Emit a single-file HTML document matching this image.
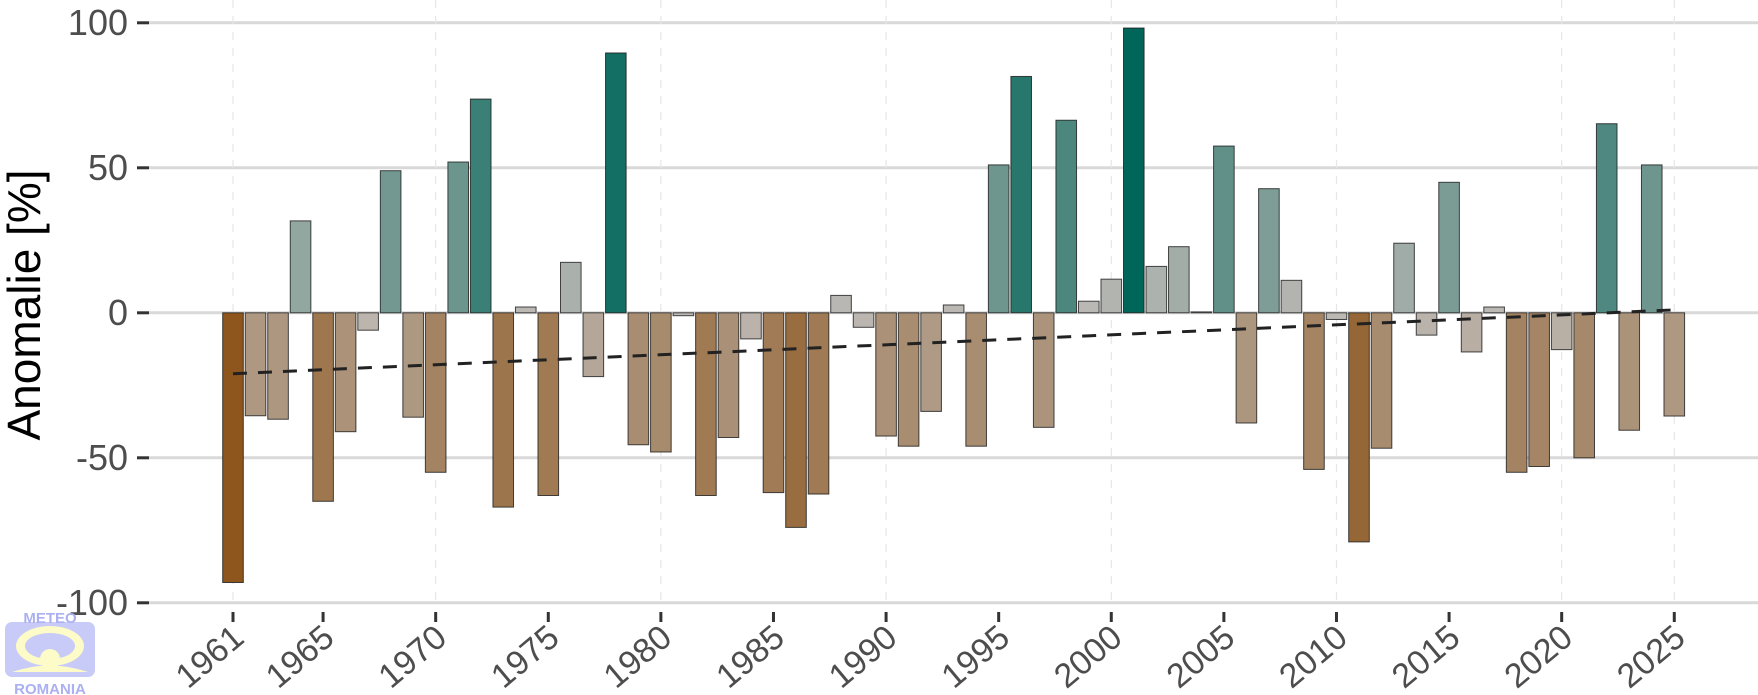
<!DOCTYPE html>
<html><head><meta charset="utf-8"><style>
html,body{margin:0;padding:0;background:#fff;}
svg{display:block;font-family:"Liberation Sans",sans-serif;}
</style></head><body>
<svg id="s" width="1758" height="695" viewBox="0 0 1758 695" xmlns="http://www.w3.org/2000/svg">
<g id="grid"></g><g id="bars"></g><g id="fg"></g>
<text x="0" y="0" transform="translate(40,305) rotate(-90)" text-anchor="middle" font-size="46" fill="#000">Anomalie [%]</text>
<g font-size="36" fill="#4d4d4d" text-anchor="end">
<text x="128" y="35">100</text>
<text x="128" y="180">50</text>
<text x="128" y="325">0</text>
<text x="128" y="470">-50</text>
<text x="128" y="615">-100</text>
</g>
<g id="logo">
<rect x="5" y="622" width="90" height="55" rx="7" fill="#c8cbf7"/>
<ellipse cx="50" cy="646" rx="34" ry="20" fill="#fdfbc8"/>
<ellipse cx="50" cy="646" rx="25" ry="13" fill="#c8cbf7"/>
<circle cx="50" cy="659" r="10" fill="#fdfbc8"/>
<path d="M12 672 Q50 659 88 672 Z" fill="#fdfbc8"/>
<text x="50" y="623" text-anchor="middle" font-size="15" font-weight="bold" fill="#aab0f0">METEO</text>
<text x="50" y="694" text-anchor="middle" font-size="15" font-weight="bold" fill="#aab0f0">ROMANIA</text>
</g>
</svg>
<script>
var vals=[-93,-35.5,-36.7,31.7,-65,-41,-6,49,-36,-55,52,73.7,-67,2,-63,17.4,-22,89.6,-45.5,-48,-1,-63,-43,-9,-62,-74,-62.5,6,-5,-42.5,-46,-34,2.7,-46,51,81.5,-39.5,66.4,4,11.6,98.2,16,22.8,0.3,57.5,-38,42.8,11.2,-54,-2.3,-79,-46.7,24,-7.7,45,-13.5,2,-55,-53,-12.7,-50,65.2,-40.5,51,-35.6];
var NS="http://www.w3.org/2000/svg";
function el(t,a,p){var e=document.createElementNS(NS,t);for(var k in a)e.setAttribute(k,a[k]);if(p)p.appendChild(e);return e;}
function X(y){return 233+22.52*(y-1961);}
function Y(v){return 312.8-2.9*v;}
var g=document.getElementById('grid'),b=document.getElementById('bars'),f=document.getElementById('fg');
[100,50,0,-50,-100].forEach(function(v){el('line',{x1:149,x2:1758,y1:Y(v),y2:Y(v),stroke:'#d9d9d9','stroke-width':3},g);el('line',{x1:137,x2:149,y1:Y(v),y2:Y(v),stroke:'#333','stroke-width':3},f);});
[1961,1970,1980,1990,2000,2010,2020,2025].forEach(function(yr){el('line',{x1:X(yr),x2:X(yr),y1:0,y2:603,stroke:'#e6e6e6','stroke-width':1.2,'stroke-dasharray':'8 8'},g);});
var grey=[189,185,181],neg=[140,81,20],pos=[0,102,90];
vals.forEach(function(v,i){
 var t=Math.min(1,Math.abs(v)/97);t=v<0?Math.pow(t,1.15):Math.pow(t,1.35);
 var c=v<0?neg:pos;var col='rgb('+[0,1,2].map(function(k){return Math.round(grey[k]+(c[k]-grey[k])*t);}).join(',')+')';
 var x=X(1961+i)-10.3,y1=Y(Math.max(v,0)),y2=Y(Math.min(v,0));
 el('rect',{x:x,y:y1,width:20.6,height:Math.max(y2-y1,0.8),fill:col,stroke:'#1a1a1a','stroke-width':1,'stroke-opacity':0.8},b);
});
el('line',{x1:X(1961),y1:Y(-21),x2:X(2025),y2:Y(1),stroke:'#222','stroke-width':3,'stroke-dasharray':'14 11'},f);
[1961,1965,1970,1975,1980,1985,1990,1995,2000,2005,2010,2015,2020,2025].forEach(function(yr){
 el('line',{x1:X(yr),x2:X(yr),y1:612,y2:622,stroke:'#333','stroke-width':3},f);
 var t=el('text',{x:0,y:0,transform:'translate('+(X(yr)+13)+',641) rotate(-40)','text-anchor':'end','font-size':34,fill:'#4d4d4d'},f);
 t.textContent=yr;
});
</script>
</body></html>
